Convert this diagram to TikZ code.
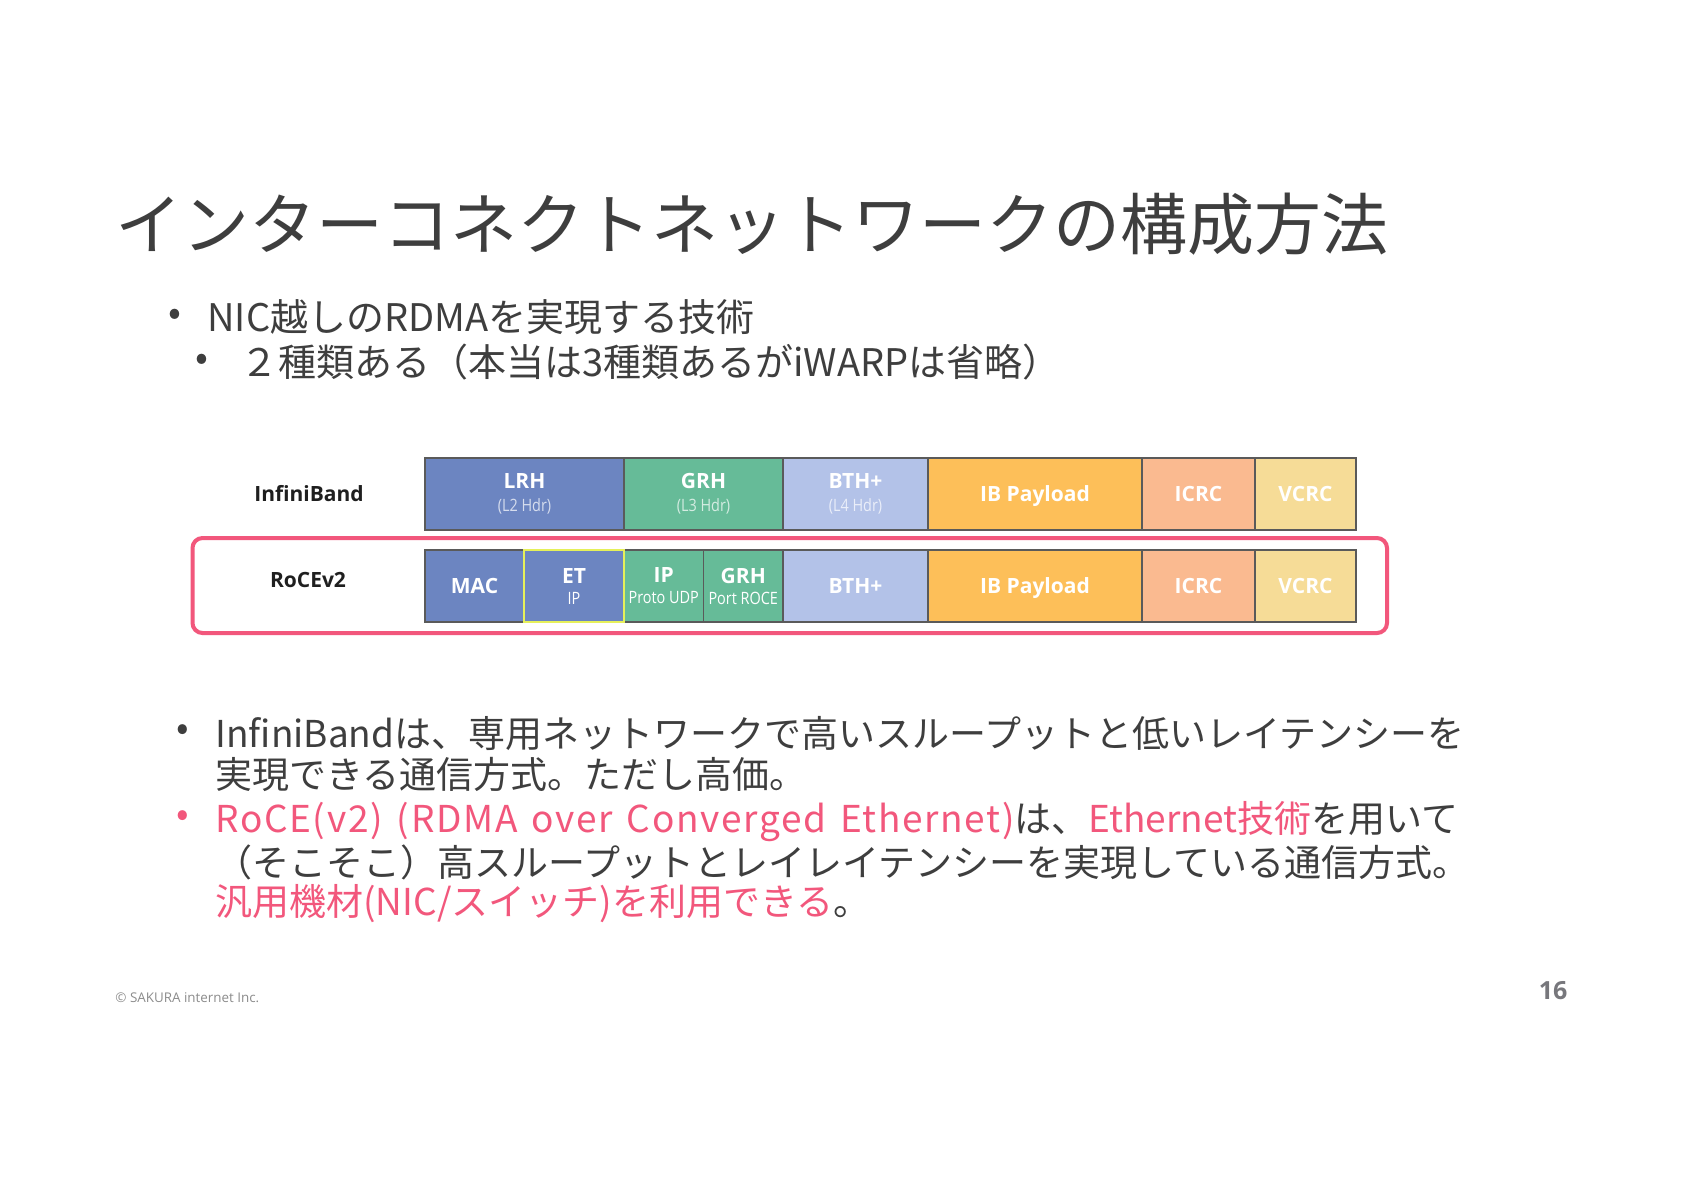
\documentclass[tikz,border=0pt]{standalone}
\usepackage{fontspec}
\setmainfont{Noto Sans CJK JP}
\newfontfamily\pktfont{Open Sans}
\newfontfamily\pktsubfont{Open Sans}[FakeStretch=0.85]
\usetikzlibrary{positioning}

\definecolor{textgray}{HTML}{3E3E3E}
\definecolor{rocepink}{HTML}{F2577C}
\definecolor{lrhblue}{HTML}{6C85C1}
\definecolor{grhgreen}{HTML}{66BB98}
\definecolor{bthblue}{HTML}{B3C2E8}
\definecolor{payorange}{HTML}{FDBF59}
\definecolor{icrcsalmon}{HTML}{FABA90}
\definecolor{vcrcyellow}{HTML}{F6DC97}
\definecolor{fieldline}{HTML}{5A5A5A}
\definecolor{etyellow}{HTML}{E6F05A}
\definecolor{pagegray}{HTML}{77777C}

\newcommand\subtext[2]{{\pktsubfont\mdseries\fontsize{8.5}{9}\selectfont\color{white!72!#1}#2}}
\newcommand\widelatin[1]{{\addfontfeature{LetterSpace=4.5}\spaceskip=0.38em\relax#1}}

\begin{document}
\begin{tikzpicture}[x=0.5pt,y=-0.5pt,
    field/.style={draw=fieldline, line width=0.6pt, fill=#1, minimum height=36pt,
      inner sep=0pt, outer sep=0pt, text=white, align=center,
      font=\pktfont\bfseries\fontsize{10.5}{11}\selectfont},
    fw/.style={minimum width=#1*0.5pt},
    rowlabel/.style={font=\pktfont\bfseries\fontsize{10.5}{12}\selectfont, text=black!88},
    roceframe/.style={draw=rocepink, line width=2pt, rounded corners=5pt},
    etframe/.style={draw=etyellow, line width=1.2pt},
    bodytext/.style={inner sep=0pt, text=textgray, anchor=west},
    bigbody/.style={bodytext, font=\fontsize{19}{22}\selectfont},
    smallbody/.style={bodytext, font=\fontsize{18.5}{21}\selectfont},
    dot/.style={inner sep=0pt, text=textgray}]
  \fill[white] (0,0) rectangle (1684,1191);
  \useasboundingbox (0,0) rectangle (1684,1191);

  \node[bodytext, font=\fontsize{33.5}{40}\selectfont] (title) at (115,224) {インターコネクトネットワークの構成方法};

  \node[dot, font=\fontsize{19}{22}\selectfont] (b1dot) at (175,317) {•};
  \node[bigbody] (b1) at (207,317) {NIC越しのRDMAを実現する技術};
  \node[dot, font=\fontsize{19}{22}\selectfont] (b2dot) at (202,362) {•};
  \node[bigbody] (b2) at (240,362) {２種類ある（本当は3種類あるがiWARPは省略）};

  \node[rowlabel] (ibname) at (309,494) {InfiniBand};
  \node[field=lrhblue, fw=199, anchor=north west] (lrh) at (425,458) {LRH\\[0.5pt]\subtext{lrhblue}{(L2 Hdr)}};
  \node[field=grhgreen, fw=159, right=0pt of lrh] (grh) {GRH\\[0.5pt]\subtext{grhgreen}{(L3 Hdr)}};
  \node[field=bthblue, fw=145, right=0pt of grh] (bth) {BTH+\\[0.5pt]\subtext{bthblue}{(L4 Hdr)}};
  \node[field=payorange, fw=214, right=0pt of bth, text depth=0pt] (payload) {IB Payload};
  \node[field=icrcsalmon, fw=113, right=0pt of payload] (icrc) {ICRC};
  \node[field=vcrcyellow, fw=101, right=0pt of icrc] (vcrc) {VCRC};

  \draw[roceframe] (192.5,538) rectangle (1387,633);
  \node[rowlabel] (rocename) at (308,580) {RoCEv2};
  \node[field=lrhblue, fw=99, anchor=north west] (mac) at (425,550) {MAC};
  \node[field=lrhblue, fw=100, right=0pt of mac] (et) {ET\\[-0.5pt]\subtext{white}{IP}};
  \node[field=grhgreen, fw=79.5, right=0pt of et] (ip) {IP\\[-0.5pt]\subtext{white}{Proto UDP}};
  \node[field=grhgreen, fw=79.5, right=0pt of ip] (grhr) {GRH\\[-0.5pt]\subtext{white}{Port ROCE}};
  \node[field=bthblue, fw=145, right=0pt of grhr] (bthr) {BTH+};
  \node[field=payorange, fw=214, right=0pt of bthr, text depth=0pt] (payloadr) {IB Payload};
  \node[field=icrcsalmon, fw=113, right=0pt of payloadr] (icrcr) {ICRC};
  \node[field=vcrcyellow, fw=101, right=0pt of icrcr] (vcrcr) {VCRC};
  \draw[etframe] (et.south west) rectangle (et.north east);

  \node[dot, font=\fontsize{18.5}{21}\selectfont] (c1dot) at (183,733) {•};
  \node[smallbody] (c1a) at (215,733) {InfiniBandは、専用ネットワークで高いスループットと低いレイテンシーを};
  \node[smallbody] (c1b) at (215,774) {実現できる通信方式。ただし高価。};
  \node[dot, font=\fontsize{18.5}{21}\selectfont, text=rocepink] (c2dot) at (183,819) {•};
  \node[smallbody] (c2a) at (215,822) {\textcolor{rocepink}{\widelatin{RoCE(v2) (RDMA over Converged Ethernet)}}は、\textcolor{rocepink}{Ethernet技術}を用いて};
  \node[smallbody] (c2b) at (215,862) {（そこそこ）高スループットとレイレイテンシーを実現している通信方式。};
  \node[smallbody] (c2c) at (215,904) {\textcolor{rocepink}{汎用機材(NIC/スイッチ)を利用できる}。};

  \node[inner sep=0pt, anchor=west, font=\pktfont\fontsize{6.7}{7.5}\selectfont, text=black!45] (copyright) at (115,998) {© SAKURA internet Inc.};
  \node[inner sep=0pt, font=\pktfont\bfseries\fontsize{12.5}{14}\selectfont, text=pagegray] (pagenum) at (1553,991) {16};
\end{tikzpicture}
\end{document}
